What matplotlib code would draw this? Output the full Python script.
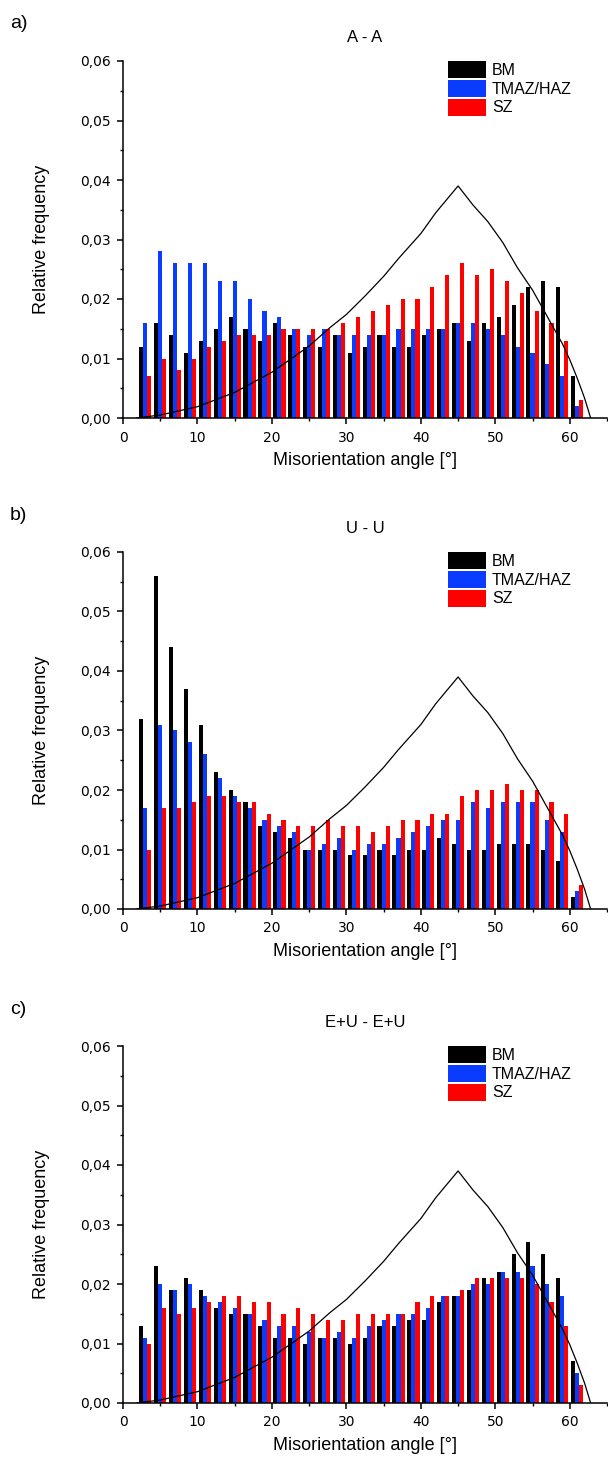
import matplotlib
matplotlib.use("Agg")
import matplotlib.pyplot as plt
import numpy as np
from matplotlib.ticker import MultipleLocator, FuncFormatter

# bin centres [deg]
angles = np.arange(3, 62, 2)

# panel a) A - A
bm_a = [0.012, 0.016, 0.014, 0.011, 0.013, 0.015, 0.017, 0.015, 0.013, 0.016,
        0.014, 0.012, 0.012, 0.014, 0.011, 0.012, 0.014, 0.012, 0.012, 0.014,
        0.015, 0.016, 0.013, 0.016, 0.017, 0.019, 0.022, 0.023, 0.022, 0.007]
tmaz_a = [0.016, 0.028, 0.026, 0.026, 0.026, 0.023, 0.023, 0.020, 0.018, 0.017,
          0.015, 0.014, 0.015, 0.014, 0.014, 0.014, 0.014, 0.015, 0.015, 0.015,
          0.015, 0.016, 0.016, 0.015, 0.014, 0.012, 0.011, 0.009, 0.007, 0.002]
sz_a = [0.007, 0.010, 0.008, 0.010, 0.012, 0.013, 0.014, 0.014, 0.014, 0.015,
        0.015, 0.015, 0.015, 0.016, 0.017, 0.018, 0.019, 0.020, 0.020, 0.022,
        0.024, 0.026, 0.024, 0.025, 0.023, 0.021, 0.018, 0.016, 0.013, 0.003]

# panel b) U - U
bm_b = [0.032, 0.056, 0.044, 0.037, 0.031, 0.023, 0.020, 0.018, 0.014, 0.013,
        0.012, 0.010, 0.010, 0.010, 0.009, 0.009, 0.010, 0.009, 0.010, 0.010,
        0.012, 0.011, 0.010, 0.010, 0.011, 0.011, 0.011, 0.010, 0.008, 0.002]
tmaz_b = [0.017, 0.031, 0.030, 0.028, 0.026, 0.022, 0.019, 0.017, 0.015, 0.014,
          0.013, 0.010, 0.011, 0.012, 0.010, 0.011, 0.011, 0.012, 0.013, 0.014,
          0.015, 0.015, 0.018, 0.017, 0.018, 0.018, 0.018, 0.015, 0.013, 0.003]
sz_b = [0.010, 0.017, 0.017, 0.018, 0.019, 0.019, 0.018, 0.018, 0.016, 0.015,
        0.014, 0.014, 0.015, 0.014, 0.014, 0.013, 0.014, 0.015, 0.015, 0.016,
        0.016, 0.019, 0.020, 0.020, 0.021, 0.020, 0.020, 0.018, 0.016, 0.004]

# panel c) E+U - E+U
bm_c = [0.013, 0.023, 0.019, 0.021, 0.019, 0.016, 0.015, 0.015, 0.013, 0.011,
        0.011, 0.010, 0.011, 0.011, 0.010, 0.011, 0.013, 0.013, 0.014, 0.014,
        0.017, 0.018, 0.019, 0.021, 0.022, 0.025, 0.027, 0.025, 0.021, 0.007]
tmaz_c = [0.011, 0.020, 0.019, 0.020, 0.018, 0.017, 0.016, 0.015, 0.014, 0.013,
          0.013, 0.012, 0.011, 0.012, 0.011, 0.013, 0.014, 0.015, 0.015, 0.016,
          0.018, 0.018, 0.020, 0.020, 0.022, 0.022, 0.023, 0.020, 0.018, 0.005]
sz_c = [0.010, 0.016, 0.015, 0.016, 0.017, 0.018, 0.018, 0.017, 0.017, 0.015,
        0.016, 0.015, 0.014, 0.014, 0.015, 0.015, 0.015, 0.015, 0.017, 0.018,
        0.018, 0.019, 0.021, 0.021, 0.021, 0.021, 0.020, 0.017, 0.013, 0.003]

# random (Mackenzie) curve
curve_angle = [1.8, 5, 10, 15, 20, 22.4, 25, 27.8, 30, 32.5, 35, 37, 40, 42, 45,
               47, 49, 51, 53, 55, 57, 59, 60, 61, 62, 62.8]
curve_freq = [0.0, 0.0005, 0.0019, 0.0043, 0.0077, 0.0098, 0.0121, 0.0152, 0.0174,
              0.0205, 0.0238, 0.0268, 0.031, 0.0345, 0.039, 0.0358, 0.0330, 0.0295,
              0.0252, 0.0215, 0.0170, 0.0125, 0.0098, 0.0067, 0.0033, 0.0]

panels = [("a)", "A - A", bm_a, tmaz_a, sz_a),
          ("b)", "U - U", bm_b, tmaz_b, sz_b),
          ("c)", "E+U - E+U", bm_c, tmaz_c, sz_c)]

labels = ["BM", "TMAZ/HAZ", "SZ"]
colors = ["#000000", "#0a3cff", "#ff0000"]
lab_font = "Liberation Sans"

W, H = 608, 1463
fig = plt.figure(figsize=(W / 100, H / 100), dpi=100)

ax_tops = [61, 552, 1046]
ax_h = 357
left, right = 123, 607
bw = 0.55

for (tag, title, bm, tmaz, sz), top in zip(panels, ax_tops):
    ax = fig.add_axes([left / W, 1 - (top + ax_h) / H, (right - left) / W, ax_h / H])
    for i, (vals, c, lab) in enumerate(zip([bm, tmaz, sz], colors, labels)):
        ax.bar(angles + (i - 1) * bw, vals, width=bw, color=c, label=lab,
               linewidth=0, zorder=2)
    ax.plot(curve_angle, curve_freq, color="black", lw=0.9, zorder=3)

    ax.set_xlim(0, 65)
    ax.set_ylim(0, 0.06)
    ax.xaxis.set_major_locator(MultipleLocator(10))
    ax.xaxis.set_minor_locator(MultipleLocator(5))
    ax.yaxis.set_major_locator(MultipleLocator(0.01))
    ax.yaxis.set_minor_locator(MultipleLocator(0.005))
    ax.yaxis.set_major_formatter(FuncFormatter(lambda v, p: f"{v:.2f}".replace(".", ",")))
    ax.spines["top"].set_visible(False)
    ax.spines["right"].set_visible(False)
    for s in ["left", "bottom"]:
        ax.spines[s].set_linewidth(1.1)
    ax.tick_params(which="major", direction="out", length=4, width=1.1,
                   labelsize=10, pad=5)
    ax.tick_params(which="minor", direction="out", length=2.5, width=1.0)
    for t in ax.get_xticklabels() + ax.get_yticklabels():
        t.set_family("DejaVu Sans")

    ax.set_ylabel("Relative frequency", family=lab_font, fontsize=13)
    ax.set_xlabel("Misorientation angle [°]", family=lab_font, fontsize=13)
    ax.yaxis.set_label_coords(-0.15, 0.5)
    ax.xaxis.set_label_coords(0.5, -0.095)

    ax.set_title(title, family=lab_font, fontsize=12, pad=14)
    fig.text(10 / W, 1 - (top - 37) / H, tag, family=lab_font, fontsize=14,
             ha="left", va="center")

    ax.legend(loc="upper left", bbox_to_anchor=((448 - left) / (right - left), 1.0),
              frameon=False, prop={"family": lab_font, "size": 11.5},
              handlelength=2.4, handleheight=1.25, labelspacing=0.12,
              handletextpad=0.35, borderaxespad=0, borderpad=0)

fig.savefig("out.png", dpi=100)
